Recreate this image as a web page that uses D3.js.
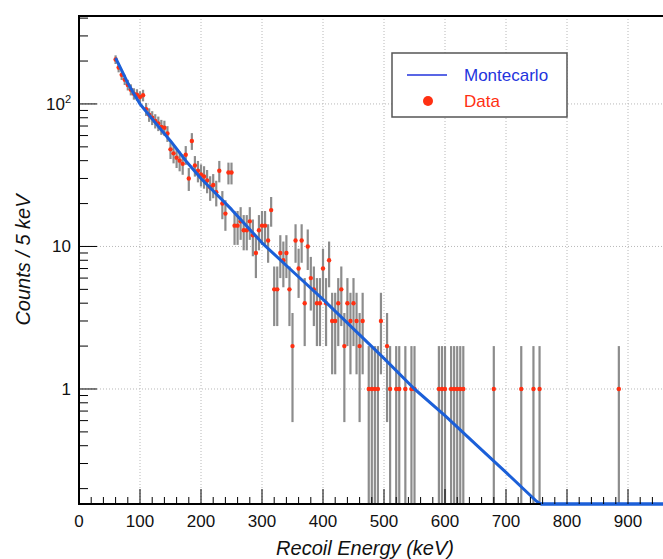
<!DOCTYPE html>
<meta charset="utf-8">
<style>
  body { margin: 0; background: #fff; }
  text { font-family: "Liberation Sans", Arial, sans-serif; }
</style>
<svg id="chart" width="663" height="559"></svg>
<script src="https://d3js.org/d3.v7.min.js"></script>
<script>

// measured counts per 5 keV bin (bin centre in keV)
dataEnergy = [60,65,70,75,80,85,90,95,100,105,110,115,120,125,130,135,140,145,150,155,
  160,165,170,175,180,185,190,195,200,205,210,215,220,225,230,235,240,245,250,255,
  260,265,270,275,280,285,290,295,300,305,310,315,320,325,330,335,340,345,350,355,
  360,365,370,375,380,385,390,395,400,405,410,415,420,425,430,435,440,445,450,455,
  460,465,475,480,485,490,495,505,510,520,525,535,545,550,
  590,595,600,610,615,620,625,630,680,725,745,755,885]
dataCounts = [205,180,160,148,136,126,118,116,112,115,92,84,80,76,73,69,68,62,48,45,
  42,40,38,44,30,55,37,34,32,31,29,26,27,24,34,20,17,33,33,14,
  14,15,13,13,15,12,9,13,14,14,11,18,5,5,9,8,9,5,2,11,
  7,11,4,10,6,5,4,4,7,4,8,3,3,4,5,2,4,3,4,3,
  2,3,1,1,1,1,3,2,1,1,1,1,1,1,
  1,1,1,1,1,1,1,1,1,1,1,1,1]

// Montecarlo curve
mcEnergy = [60,70,80,90,100,125,150,175,200,250,300,350,400,450,500,550,600,650,700,750,757,800,900,1000]
mcCounts = [210,172,140,118,100,74,55,40,30,18.2,10.6,6.7,4.25,2.64,1.64,1.0,0.65,0.41,0.26,0.163,0.156,0.1,0.04,0.02]

xTicks = [0,100,200,300,400,500,600,700,800,900]
yMajor = [1,10,100]
yLabels = ["1","10","10²"]

margin = {left: 79, top: 16, bottom: 504}

svg = d3.select("#chart")

x = d3.scaleLinear().domain([0, 1000]).range([margin.left, margin.left + 610])
y = d3.scaleLog().domain([0.156, 414]).range([margin.bottom, margin.top])
yMin = y.domain()[0]
yMax = y.domain()[1]
xRight = 663

// grid
grid = svg.append("g")
  .attr("stroke", "#b8b8b8")
  .attr("stroke-width", 1)
  .attr("stroke-dasharray", "1,2")
grid.selectAll(".gx")
  .data(xTicks.slice(1))
  .join("line")
  .attr("x1", d => x(d)).attr("x2", d => x(d))
  .attr("y1", margin.top).attr("y2", margin.bottom)
grid.selectAll(".gy")
  .data(yMajor)
  .join("line")
  .attr("x1", margin.left).attr("x2", xRight)
  .attr("y1", d => y(d)).attr("y2", d => y(d))

// error bars
pts = dataEnergy.map((e, i) => ({e: e, n: dataCounts[i]}))
function clampY(v) { return v <= yMin ? margin.bottom : Math.max(margin.top, y(v)) }

svg.append("g")
  .attr("stroke", "#8c8c8c")
  .attr("stroke-width", 2.2)
  .selectAll("line")
  .data(pts)
  .join("line")
  .attr("x1", d => x(d.e)).attr("x2", d => x(d.e))
  .attr("y1", d => clampY(d.n - Math.sqrt(d.n)))
  .attr("y2", d => clampY(d.n + Math.sqrt(d.n)))

// montecarlo line (below the minimum it runs along the frame)
mc = mcEnergy.map((e, i) => [e, mcCounts[i]])
line = d3.line()
  .x(d => x(d[0]))
  .y(d => clampY(d[1]))

// data markers
svg.append("g")
  .attr("fill", "#ff3012")
  .selectAll("circle")
  .data(pts)
  .join("circle")
  .attr("cx", d => x(d.e))
  .attr("cy", d => y(d.n))
  .attr("r", 2.2)

svg.append("path")
  .datum(mc)
  .attr("fill", "none")
  .attr("stroke", "#1b5fd8")
  .attr("stroke-width", 3)
  .attr("stroke-linejoin", "round")
  .attr("d", line)

// frame
svg.append("path")
  .attr("fill", "none")
  .attr("stroke", "#000")
  .attr("stroke-width", 2)
  .attr("d", `M${xRight},${margin.top}H${margin.left}V${margin.bottom}H${xRight}`)

// redraw the flat MC part on top of the bottom axis line
svg.append("path")
  .datum(mc.filter(d => d[1] <= yMin))
  .attr("fill", "none")
  .attr("stroke", "#1b5fd8")
  .attr("stroke-width", 3)
  .attr("d", line)

// x ticks (inside)
xMinor = d3.range(0, 1000, 20)
svg.append("g")
  .attr("stroke", "#000")
  .attr("stroke-width", 1)
  .selectAll("line")
  .data(xMinor.filter(d => x(d) < xRight))
  .join("line")
  .attr("x1", d => x(d)).attr("x2", d => x(d))
  .attr("y1", margin.bottom)
  .attr("y2", d => margin.bottom - (d % 100 === 0 ? 15 : 7))

svg.append("g")
  .selectAll("text")
  .data(xTicks)
  .join("text")
  .attr("x", d => x(d))
  .attr("y", 527)
  .attr("text-anchor", "middle")
  .attr("font-size", 17)
  .attr("fill", "#111")
  .text(d => d)

// y ticks (inside)
yMinor = []
;[0.1, 1, 10, 100].forEach(dec => {
  for (let k = 1; k < 10; k++) {
    const v = k * dec
    if (v >= yMin && v <= yMax) yMinor.push({v: v, major: k === 1})
  }
})
svg.append("g")
  .attr("stroke", "#000")
  .attr("stroke-width", 1)
  .selectAll("line")
  .data(yMinor)
  .join("line")
  .attr("x1", margin.left)
  .attr("x2", d => margin.left + (d.major ? 18 : 9))
  .attr("y1", d => y(d.v)).attr("y2", d => y(d.v))

ylab = svg.append("g")
  .selectAll("text")
  .data(yMajor)
  .join("text")
  .attr("x", 71)
  .attr("y", d => y(d) + 6)
  .attr("text-anchor", "end")
  .attr("font-size", 17)
  .attr("fill", "#111")
ylab.filter((d, i) => i < 2).text((d, i) => yLabels[i])
ylab.filter((d, i) => i === 2).each(function() {
  const t = d3.select(this)
  t.append("tspan").text("10")
  t.append("tspan").attr("dy", -7).attr("font-size", 11).text("2")
})

// axis titles
svg.append("text")
  .attr("x", 365).attr("y", 555)
  .attr("text-anchor", "middle")
  .attr("font-size", 20)
  .attr("font-style", "italic")
  .attr("fill", "#111")
  .text("Recoil Energy (keV)")

svg.append("text")
  .attr("transform", "translate(30,260) rotate(-90)")
  .attr("text-anchor", "middle")
  .attr("font-size", 20)
  .attr("font-style", "italic")
  .attr("fill", "#111")
  .text("Counts / 5 keV")

// legend
leg = svg.append("g")
leg.append("rect")
  .attr("x", 392).attr("y", 53)
  .attr("width", 175).attr("height", 64)
  .attr("fill", "#fff")
  .attr("stroke", "#555")
  .attr("stroke-width", 1.5)
leg.append("line")
  .attr("x1", 407).attr("x2", 447)
  .attr("y1", 75).attr("y2", 75)
  .attr("stroke", "#2233dd")
  .attr("stroke-width", 1.5)
leg.append("circle")
  .attr("cx", 428).attr("cy", 101).attr("r", 5)
  .attr("fill", "#ff3012")
leg.append("text")
  .attr("x", 464).attr("y", 81)
  .attr("font-size", 17)
  .attr("fill", "#2233dd")
  .text("Montecarlo")
leg.append("text")
  .attr("x", 464).attr("y", 107)
  .attr("font-size", 17)
  .attr("fill", "#ff3012")
  .text("Data")

</script>
